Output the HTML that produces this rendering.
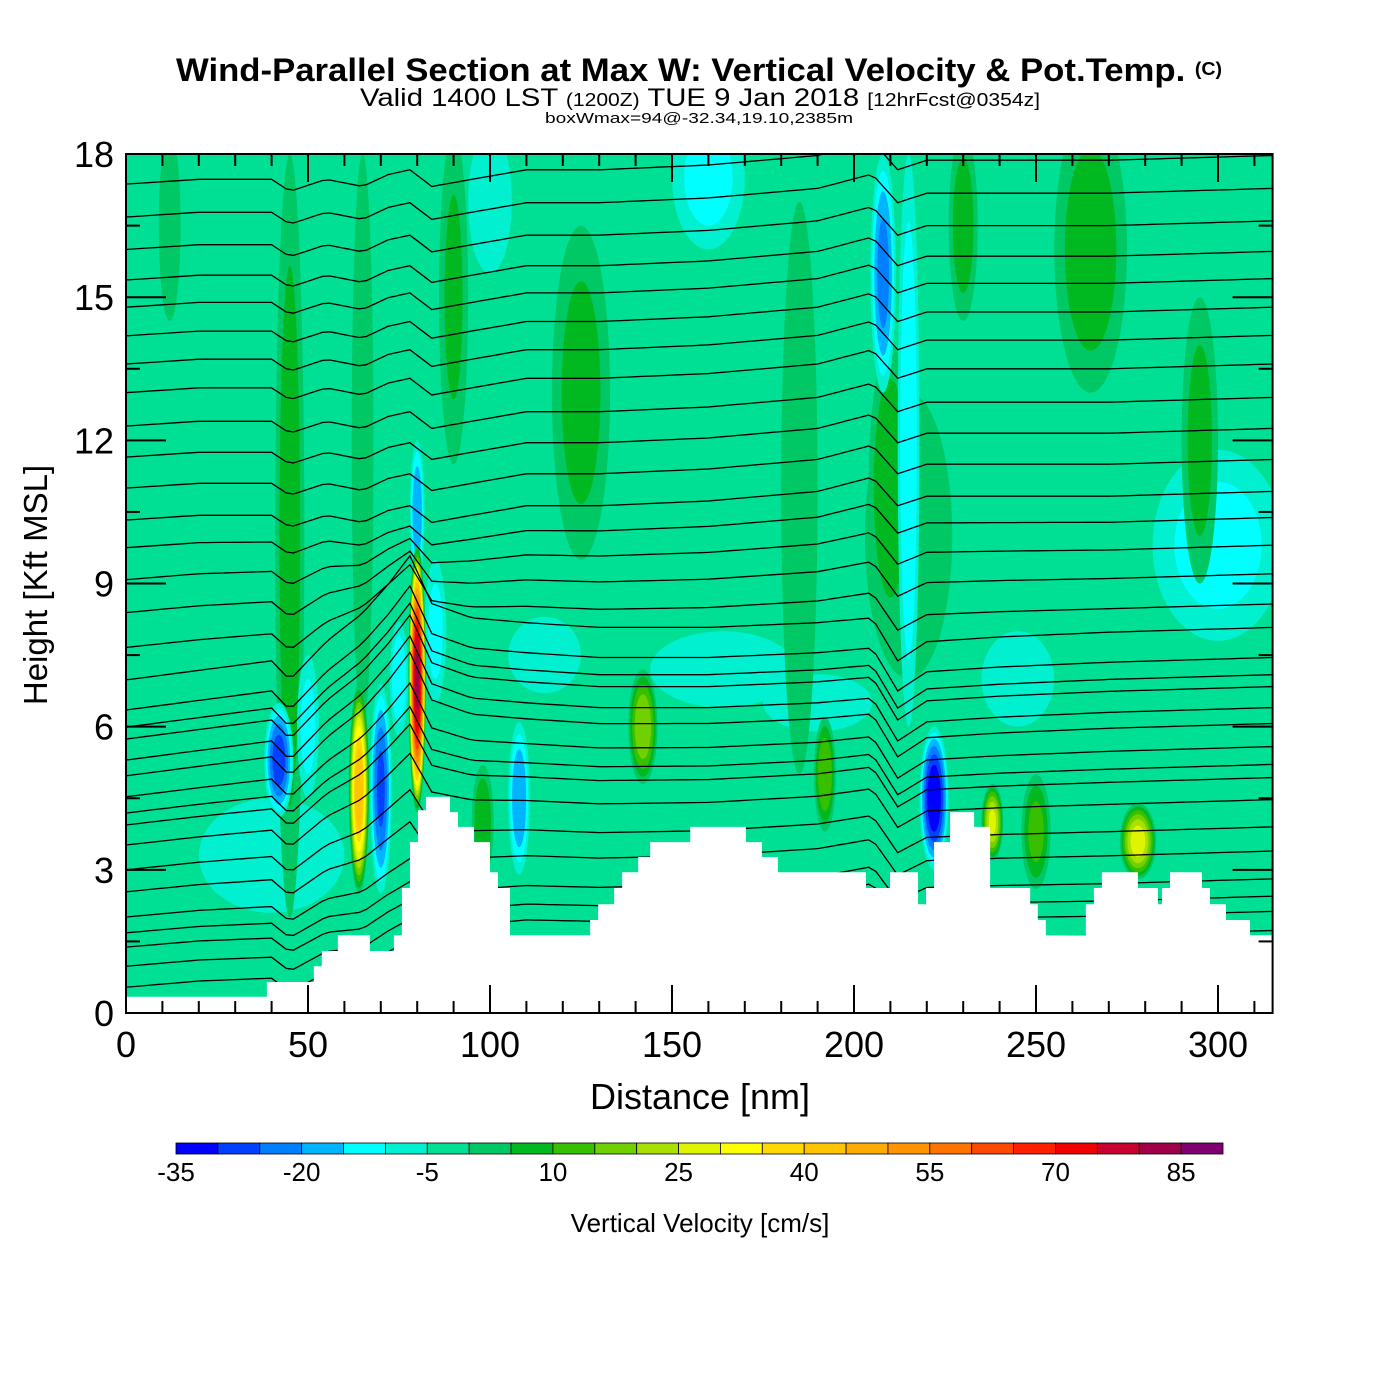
<!DOCTYPE html>
<html><head><meta charset="utf-8">
<style>
html,body{margin:0;padding:0;background:#fff;}
svg{display:block;font-family:"Liberation Sans",sans-serif;}
</style></head>
<body>
<svg id="chart" width="1400" height="1400" viewBox="0 0 1400 1400">
  <defs><clipPath id="plotclip"><rect x="126" y="154" width="1146.6" height="859"/></clipPath></defs>
  <text x="176" y="81" textLength="1046" lengthAdjust="spacingAndGlyphs" font-size="32" font-weight="bold">Wind-Parallel Section at Max W: Vertical Velocity &amp; Pot.Temp. <tspan font-size="18" dy="-6">(C)</tspan></text>
  <text x="360" y="106" textLength="680" lengthAdjust="spacingAndGlyphs" font-size="25">Valid 1400 LST <tspan font-size="18">(1200Z)</tspan> TUE 9 Jan 2018 <tspan font-size="18">[12hrFcst@0354z]</tspan></text>
  <text x="545" y="123" textLength="308" lengthAdjust="spacingAndGlyphs" font-size="15">boxWmax=94@-32.34,19.10,2385m</text>
  <g id="field" clip-path="url(#plotclip)"></g>
  <g id="contours" clip-path="url(#plotclip)"></g>
  <g id="terrain" clip-path="url(#plotclip)"></g>
  <g id="axes"></g>
  <text x="700" y="1109" text-anchor="middle" font-size="36">Distance [nm]</text>
  <text transform="translate(47,585) rotate(-90)" text-anchor="middle" font-size="33">Height [Kft MSL]</text>
  <g id="colorbar"></g>
  <text x="700" y="1232" text-anchor="middle" font-size="26">Vertical Velocity [cm/s]</text>
</svg>
<script>
// ---- data ----
const cbColors = ["#0000ff","#0040ff","#0080ff","#00b4ff","#00ffff","#00f0d0","#00e094","#00c864","#00b820","#38c000","#70d000","#a8e000","#e0f400","#ffff00","#ffd800","#ffc400","#ffac00","#ff9400","#ff7400","#ff4800","#ff2000","#f00000","#c80030","#a00048","#800070"];
const cbLabels = [-35,-20,-5,10,25,40,55,70,85];
const xTicks = [0,50,100,150,200,250,300];
const yTicks = [0,3,6,9,12,15,18];
// terrain steps: start distance (nm), height (kft)
const terrainX = [0,38.7,51.6,53.8,58.2,67.0,73.6,75.8,78.0,80.2,82.4,89.0,91.2,95.6,100,102.2,105.5,127.5,129.7,134.1,136.3,140.7,144,155,170.3,174.7,179.1,203.3,209.9,217.6,219.8,222,226.4,233,237.4,248.4,250.5,252.7,263.7,265.9,268.1,278,283.5,284.6,286.8,295.6,297.8,302.2,308.8];
const terrainH = [0.34,0.65,0.98,1.3,1.63,1.3,1.63,2.62,3.58,4.25,4.53,4.21,3.9,3.58,2.95,2.62,1.63,1.95,2.28,2.62,2.95,3.27,3.58,3.9,3.58,3.27,2.95,2.62,2.95,2.28,2.62,3.58,4.21,3.9,2.62,2.28,1.95,1.63,2.28,2.62,2.95,2.62,2.28,2.62,2.95,2.62,2.28,1.95,1.63];
// velocity cells: center distance, center height, half-width (nm), half-height (kft), peak value
const blobX = [300,160, 40,164,190,115,100,245,215, 45, 65, 90,125,185,210,230,265,295, 12, 98,142,192,250, 50, 85, 75,208,215, 80,108, 42, 70,222, 64, 80,238,278];
const blobY = [9.8,17.5,3.3,7.2,6.5,7.5, 17,  7, 10, 10, 12, 15, 13, 11, 11,16.5,16,12,16.5, 4,  6,  5,3.8,  6,  8,  7,15.5, 12,10.5,4.5,5.3,4.7,4.5,4.7,  7,  4,3.6];
const blobW = [ 18, 10, 20, 20, 15, 10,  6, 10, 12,  4,  3,  4,  8,  5,  6,  4, 10,  5,  3,  3,  4,  3,  4,  3,  3,2.5,3.5,  3,  2,  3,  4,  3,  4,2.8,2.4,  3,  5];
const blobH = [  2,1.5,1.2,0.8,0.6,0.8,1.5,  1,  3,  8,  6,3.5,3.5,  6,  3,  2,  3,  3,  2,1.2,1.2,1.2,1.2,1.5,1.5,1.2,2.5,  6,1.5,1.6,1.2,2.2,1.5,2.2,2.8,0.8,0.8];
const blobV = [-12,-12,-10,-10,-10,-10,-10,-10,  5,  8,  5,  6,  7,  5, 10,  8,  8,  7,  4, 10, 20, 15, 12,-12,-12,-15,-22,-15,-20,-20,-28,-26,-35, 45, 82, 26, 28];
// theta contours: height (kft) at x=0
const thetaBase = [17.37,16.68,16.0,15.36,14.79,14.19,13.6,13.0,12.3,11.65,11.0,10.33,9.75,9.08,8.39,7.66,6.98,6.35,5.99,5.74,5.30,4.97,4.53,4.19,3.94,3.52,3.0,2.54,2.01,1.68,1.38,0.98,0.54];
// displacement profiles along distance (kft)
const profX  = [0, 20, 40, 45, 55, 65, 72, 78, 84, 95, 110, 130, 160, 190, 205, 212, 220, 240, 270, 315];
const profUp = [0, 0.1, 0.1,-0.15,0.1,-0.05,0.2, 0.3,-0.05,0.1, 0.3, 0.3, 0.4, 0.6, 0.9, 0.3, 0.5, 0.5, 0.5, 0.6];
const profLo = [0, 0.2, 0.4, 0.0, 0.8, 1.4, 2.0, 2.6, 1.6, 1.3, 1.2, 1.1, 1.1, 1.2, 1.3, 0.4, 0.8, 0.9, 1.0, 1.1];

// ---- scales ----
const X0=126, PXN=3.64, Y0=1013, PYK=47.72;
const sx = d => X0 + d*PXN;
const sy = h => Y0 - h*PYK;
const NS="http://www.w3.org/2000/svg";
function mk(tag, attrs, parent){ const e=document.createElementNS(NS,tag); for(const k in attrs) e.setAttribute(k,attrs[k]); parent.appendChild(e); return e; }
function binColor(v){ let i=Math.floor((v+35)/5); i=Math.max(0,Math.min(cbColors.length-1,i)); return cbColors[i]; }

// ---- field ----
const field=document.getElementById('field');
const bg=mk('rect',{x:126,y:154,width:1147,height:859,fill:binColor(-2.5)},field);


blobX.forEach((cx,i)=>{
  const peak=blobV[i];
  const g=mk('g',{},field);
  
  
  const bounds=[];
  if(peak>0){ for(let b=0;b<peak;b+=5) bounds.push([b,binColor(b+2.5)]); }
  else { for(let b=-5;b>peak;b-=5) bounds.push([b,binColor(b-2.5)]); }
  const first=bounds.length?bounds[0][0]:0;
  bounds.forEach(([b,col])=>{
    const f=(b-first)/(peak-first+ (peak>0?2:-2));
    const s=Math.sqrt(Math.max(0,1-f));
    const e=mk('ellipse',{cx:sx(cx),cy:sy(blobY[i]),rx:blobW[i]*PXN*s,ry:blobH[i]*PYK*s,fill:col},g);
    
    
  });
});

// ---- contours ----
function interp(arr,x){ for(let k=0;k<profX.length-1;k++){ if(x<=profX[k+1]){ const t=(x-profX[k])/(profX[k+1]-profX[k]); return arr[k]+t*(arr[k+1]-arr[k]); } } return arr[arr.length-1]; }
const cg=document.getElementById('contours');
thetaBase.forEach((h0,i)=>{
  const w = h0>10 ? 0 : h0>7 ? (10-h0)/3*0.8 : h0>5 ? 1 : Math.max(0.3,h0/5);
  let pts=[];
  for(let d=0; d<=316; d+=2){
    const dh=interp(profUp,d)*(1-w)+interp(profLo,d)*w;
    pts.push(sx(d).toFixed(1)+','+sy(h0+dh).toFixed(1));
  }
  const p=mk('polyline',{points:pts.join(' '),fill:'none',stroke:'#000','stroke-width':1.3},cg);
  
  
});

// ---- terrain ----
const tg=document.getElementById('terrain');
let tp=[sx(0)+','+sy(0)];
terrainX.forEach((d,i)=>{
  const nx = i<terrainX.length-1 ? terrainX[i+1] : 316;
  tp.push(sx(d)+','+sy(terrainH[i])); tp.push(sx(nx)+','+sy(terrainH[i]));
});
tp.push(sx(316)+','+sy(0));
const terr=mk('polygon',{points:tp.join(' '),fill:'#fff',stroke:'none'},tg);



// ---- axes ----
const ag=document.getElementById('axes');
const frame=mk('rect',{x:126,y:154,width:1146.6,height:859,fill:'none',stroke:'#000','stroke-width':2},ag);


for(let d=0; d<=315; d+=10){
  const major=d%50===0, L=major?28:12;
  mk('line',{x1:sx(d),x2:sx(d),y1:1013,y2:1013-L,stroke:'#000','stroke-width':2},ag);
  mk('line',{x1:sx(d),x2:sx(d),y1:154,y2:154+L,stroke:'#000','stroke-width':2},ag);
}
for(let h=0; h<=18; h+=1.5){
  const major=h%3===0, L=major?40:14;
  mk('line',{x1:126,x2:126+L,y1:sy(h),y2:sy(h),stroke:'#000','stroke-width':2},ag);
  mk('line',{x1:1272.6,x2:1272.6-L,y1:sy(h),y2:sy(h),stroke:'#000','stroke-width':2},ag);
}
xTicks.forEach(v=>{
  const t=mk('text',{x:sx(v),y:1057,'text-anchor':'middle','font-size':36},ag);
  t.textContent=v;
  
  
});
yTicks.forEach(v=>{
  const t=mk('text',{x:114,y:sy(v)+13,'text-anchor':'end','font-size':36},ag);
  t.textContent=v;
  
  
});

// ---- colorbar ----
const cb=document.getElementById('colorbar');
const CBX=176, CBW=41.88;
cbColors.forEach((c,i)=>{
  const r=mk('rect',{x:CBX+i*CBW,y:1143,width:CBW,height:11,fill:c,stroke:'#000','stroke-width':0.8},cb);
  
  
});
cbLabels.forEach(v=>{
  const t=mk('text',{x:CBX+(v+35)/5*CBW,y:1181,'text-anchor':'middle','font-size':26},cb);
  t.textContent=v;
  
  
});
</script>
</body></html>
